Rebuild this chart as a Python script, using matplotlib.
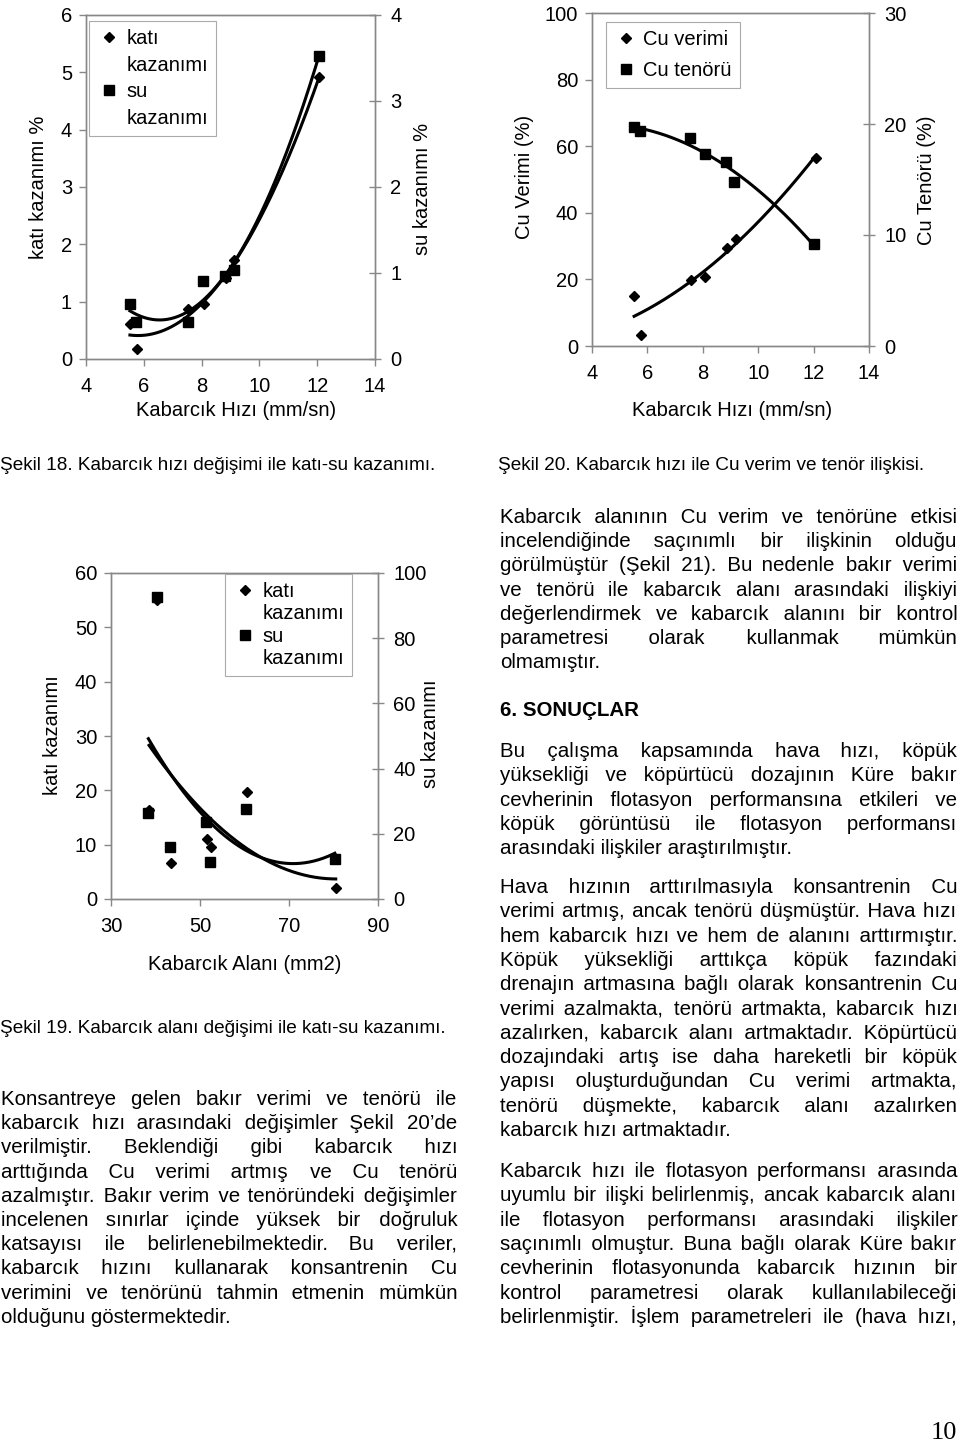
import numpy as np
import matplotlib
matplotlib.use('Agg')
import matplotlib.pyplot as plt
from matplotlib.lines import Line2D

W, H, DPI = 960, 1444, 100
plt.rcParams['font.family'] = ['Liberation Sans', 'DejaVu Sans']

# ---------------- data ----------------
# Şekil 18: Kabarcık hızı vs katı / su kazanımı
hiz18_kati = [5.52, 5.75, 7.54, 8.08, 8.84, 9.13, 12.07]
kati18 = [0.61, 0.17, 0.87, 0.96, 1.41, 1.72, 4.92]
hiz18_su = [5.52, 5.73, 7.52, 8.06, 8.82, 9.12, 12.05]
su18 = [0.64, 0.43, 0.43, 0.91, 0.96, 1.04, 3.52]

# Şekil 20: Kabarcık hızı vs Cu verimi / tenörü
hiz20_verim = [5.52, 5.78, 7.57, 8.08, 8.87, 9.19, 12.07]
verim20 = [15.1, 3.3, 19.8, 20.8, 29.3, 32.1, 56.6]
hiz20_tenor = [5.50, 5.75, 7.55, 8.07, 8.85, 9.14, 12.02]
tenor20 = [19.7, 19.4, 18.75, 17.3, 16.6, 14.8, 9.15]

# Şekil 19: Kabarcık alanı vs katı / su kazanımı
alan19_kati = [38.55, 40.3, 43.5, 51.6, 52.5, 60.5, 80.5]
kati19 = [16.4, 55.1, 6.6, 11.05, 9.6, 19.7, 2.0]
alan19_su = [38.4, 40.3, 43.3, 51.4, 52.3, 60.4, 80.3]
su19 = [26.3, 92.5, 16.0, 23.6, 11.4, 27.5, 12.2]

xticks_hiz = [4, 6, 8, 10, 12, 14]
xticks_alan = [30, 50, 70, 90]

GRAY = '#888888'
FS = 14.5
LW = 2.2
MS_D = 5.2
MS_S = 6.7

fig = plt.figure(figsize=(W / DPI, H / DPI), dpi=DPI)
fig.patch.set_facecolor('white')


def fx(x):
    return x / W


def fy(y):
    return 1 - y / H


def add_axes(l, r, t, b):
    return fig.add_axes([l / W, 1 - b / H, (r - l) / W, (b - t) / H])


def style(ax, ax2):
    for a in (ax, ax2):
        for s in a.spines.values():
            s.set_color(GRAY)
            s.set_linewidth(1.0)
        a.set_facecolor('none')
    ax.tick_params(axis='both', color=GRAY, labelcolor='black', labelsize=FS,
                   direction='out', length=5, width=1)
    ax.tick_params(axis='x', pad=8)
    ax.tick_params(axis='y', pad=5)
    ax2.tick_params(axis='y', color=GRAY, labelcolor='black', labelsize=FS,
                    direction='inout', length=8, width=1, pad=7)


def trend(ax, x, y, deg=2):
    p = np.polyfit(x, y, deg)
    xs = np.linspace(min(x), max(x), 200)
    ax.plot(xs, np.polyval(p, xs), color='black', lw=LW, zorder=3)


def legend(handles, labels, x, y, spacing):
    leg = fig.legend(handles, labels, loc='upper left',
                     bbox_to_anchor=(fx(x), fy(y)), bbox_transform=fig.transFigure,
                     borderaxespad=0, frameon=True, fancybox=False,
                     edgecolor='#aaaaaa', fontsize=FS, labelspacing=spacing,
                     handlelength=1.2, handletextpad=0.25, borderpad=0.4,
                     framealpha=1)
    leg.get_frame().set_linewidth(0.8)
    return leg


h_d = Line2D([], [], ls='none', marker='D', ms=MS_D, color='black')
h_s = Line2D([], [], ls='none', marker='s', ms=MS_S, color='black')
h_n = Line2D([], [], ls='none')

# ---------------- Şekil 18 ----------------
ax = add_axes(86, 375, 15, 359)
ax2 = ax.twinx()
ax.plot(hiz18_kati, kati18, ls='none', marker='D', ms=MS_D, color='black')
trend(ax, hiz18_kati, kati18)
ax2.plot(hiz18_su, su18, ls='none', marker='s', ms=MS_S, color='black')
trend(ax2, hiz18_su, su18)
ax.set_xlim(4, 14)
ax.set_xticks(xticks_hiz)
ax.set_ylim(0, 6)
ax.set_yticks(range(0, 7))
ax2.set_ylim(0, 4)
ax2.set_yticks(range(0, 5))
style(ax, ax2)
fig.text(fx(38), fy(187), 'katı kazanımı %', rotation=90, ha='center', va='center', fontsize=FS)
fig.text(fx(423), fy(189), 'su kazanımı %', rotation=90, ha='center', va='center', fontsize=FS)
fig.text(fx(236), fy(411), 'Kabarcık Hızı (mm/sn)', ha='center', va='center', fontsize=FS)
legend([h_d, h_n, h_s, h_n], ['katı', 'kazanımı', 'su', 'kazanımı'], 89, 21, 0.38)

# ---------------- Şekil 20 ----------------
bx = add_axes(592, 869, 13, 346)
bx2 = bx.twinx()
bx.plot(hiz20_verim, verim20, ls='none', marker='D', ms=MS_D, color='black')
trend(bx, hiz20_verim, verim20)
bx2.plot(hiz20_tenor, tenor20, ls='none', marker='s', ms=MS_S, color='black')
trend(bx2, hiz20_tenor, tenor20)
bx.set_xlim(4, 14)
bx.set_xticks(xticks_hiz)
bx.set_ylim(0, 100)
bx.set_yticks(range(0, 101, 20))
bx2.set_ylim(0, 30)
bx2.set_yticks(range(0, 31, 10))
style(bx, bx2)
fig.text(fx(525), fy(177), 'Cu Verimi (%)', rotation=90, ha='center', va='center', fontsize=FS)
fig.text(fx(927), fy(180), 'Cu Tenörü (%)', rotation=90, ha='center', va='center', fontsize=FS)
fig.text(fx(732), fy(411), 'Kabarcık Hızı (mm/sn)', ha='center', va='center', fontsize=FS)
legend([h_d, h_s], ['Cu verimi', 'Cu tenörü'], 606, 22, 0.6)

# ---------------- Şekil 19 ----------------
cx = add_axes(111, 378, 573, 899)
cx2 = cx.twinx()
cx.plot(alan19_kati, kati19, ls='none', marker='D', ms=MS_D, color='black')
trend(cx, alan19_kati, kati19)
cx2.plot(alan19_su, su19, ls='none', marker='s', ms=MS_S, color='black')
trend(cx2, alan19_su, su19)
cx.set_xlim(30, 90)
cx.set_xticks(xticks_alan)
cx.set_ylim(0, 60)
cx.set_yticks(range(0, 61, 10))
cx2.set_ylim(0, 100)
cx2.set_yticks(range(0, 101, 20))
style(cx, cx2)
fig.text(fx(52), fy(735), 'katı kazanımı', rotation=90, ha='center', va='center', fontsize=FS)
fig.text(fx(430), fy(734), 'su kazanımı', rotation=90, ha='center', va='center', fontsize=FS)
fig.text(fx(245), fy(965), 'Kabarcık Alanı (mm2)', ha='center', va='center', fontsize=FS)
legend([h_d, h_n, h_s, h_n], ['katı', 'kazanımı', 'su', 'kazanımı'], 225, 574, 0.17)

# ---------------- page text ----------------
renderer = fig.canvas.get_renderer()
BODY = 14.8
CAP = 13.7
HAIR = '\u200a'
_wcache = {}


def twidth(s, size):
    key = (s, size)
    if key not in _wcache:
        t = fig.text(0, 0.5, s, fontsize=size)
        _wcache[key] = t.get_window_extent(renderer).width
        t.remove()
    return _wcache[key]


def justify(line, x0, x1, size):
    words = line.split()
    ws = twidth('x x', size) - twidth('xx', size)
    wh = twidth('x' + HAIR + 'x', size) - twidth('xx', size)
    natural = twidth(' '.join(words), size)
    per_gap = ((x1 - x0) - natural) / (len(words) - 1)
    out = words[0]
    carry = 0.0
    for w in words[1:]:
        need = per_gap + carry
        n_s = int(need // ws) if need > 0 else 0
        rem = need - n_s * ws
        n_h = int(round(rem / wh)) if wh > 0.3 else 0
        n_h = max(n_h, 0)
        carry = need - n_s * ws - n_h * wh
        out += ' ' * (1 + n_s) + HAIR * n_h + w
    return out


def paragraph(lines, x0, x1, yb0, dy, size=BODY, last_justified=False):
    for i, line in enumerate(lines):
        just = (i < len(lines) - 1) or last_justified
        s = justify(line, x0, x1, size) if just else line
        fig.text(fx(x0), fy(yb0 + i * dy), s, fontsize=size, ha='left', va='baseline')


fig.text(fx(0), fy(470), 'Şekil 18. Kabarcık hızı değişimi ile katı-su kazanımı.',
         fontsize=CAP, ha='left', va='baseline')
fig.text(fx(498), fy(470), 'Şekil 20. Kabarcık hızı ile Cu verim ve tenör ilişkisi.',
         fontsize=CAP, ha='left', va='baseline')
fig.text(fx(0), fy(1033), 'Şekil 19. Kabarcık alanı değişimi ile katı-su kazanımı.',
         fontsize=CAP, ha='left', va='baseline')

left_par = [
    'Konsantreye gelen bakır verimi ve tenörü ile',
    'kabarcık hızı arasındaki değişimler Şekil 20’de',
    'verilmiştir. Beklendiği gibi kabarcık hızı',
    'arttığında Cu verimi artmış ve Cu tenörü',
    'azalmıştır. Bakır verim ve tenöründeki değişimler',
    'incelenen sınırlar içinde yüksek bir doğruluk',
    'katsayısı ile belirlenebilmektedir. Bu veriler,',
    'kabarcık hızını kullanarak konsantrenin Cu',
    'verimini ve tenörünü tahmin etmenin mümkün',
    'olduğunu göstermektedir.',
]
paragraph(left_par, 1, 457, 1105, 24.2)

R0, R1 = 500, 957
right_p1 = [
    'Kabarcık alanının Cu verim ve tenörüne etkisi',
    'incelendiğinde saçınımlı bir ilişkinin olduğu',
    'görülmüştür (Şekil 21). Bu nedenle bakır verimi',
    've tenörü ile kabarcık alanı arasındaki ilişkiyi',
    'değerlendirmek ve kabarcık alanını bir kontrol',
    'parametresi olarak kullanmak mümkün',
    'olmamıştır.',
]
paragraph(right_p1, R0, R1, 523, 24.2)

fig.text(fx(R0), fy(716), '6. SONUÇLAR', fontsize=BODY, weight='bold', ha='left', va='baseline')

right_p2 = [
    'Bu çalışma kapsamında hava hızı, köpük',
    'yüksekliği ve köpürtücü dozajının Küre bakır',
    'cevherinin flotasyon performansına etkileri ve',
    'köpük görüntüsü ile flotasyon performansı',
    'arasındaki ilişkiler araştırılmıştır.',
]
paragraph(right_p2, R0, R1, 757, 24.3)

right_p3 = [
    'Hava hızının arttırılmasıyla konsantrenin Cu',
    'verimi artmış, ancak tenörü düşmüştür. Hava hızı',
    'hem kabarcık hızı ve hem de alanını arttırmıştır.',
    'Köpük yüksekliği arttıkça köpük fazındaki',
    'drenajın artmasına bağlı olarak konsantrenin Cu',
    'verimi azalmakta, tenörü artmakta, kabarcık hızı',
    'azalırken, kabarcık alanı artmaktadır. Köpürtücü',
    'dozajındaki artış ise daha hareketli bir köpük',
    'yapısı oluşturduğundan Cu verimi artmakta,',
    'tenörü düşmekte, kabarcık alanı azalırken',
    'kabarcık hızı artmaktadır.',
]
paragraph(right_p3, R0, R1, 893, 24.3)

right_p4 = [
    'Kabarcık hızı ile flotasyon performansı arasında',
    'uyumlu bir ilişki belirlenmiş, ancak kabarcık alanı',
    'ile flotasyon performansı arasındaki ilişkiler',
    'saçınımlı olmuştur. Buna bağlı olarak Küre bakır',
    'cevherinin flotasyonunda kabarcık hızının bir',
    'kontrol parametresi olarak kullanılabileceği',
    'belirlenmiştir. İşlem parametreleri ile (hava hızı,',
]
paragraph(right_p4, R0, R1, 1177, 24.35, last_justified=True)

fig.text(fx(957), fy(1439), '10', fontsize=19, ha='right', va='baseline',
         family=['Liberation Serif', 'DejaVu Serif'])

fig.savefig('out.png', dpi=DPI, facecolor='white')
